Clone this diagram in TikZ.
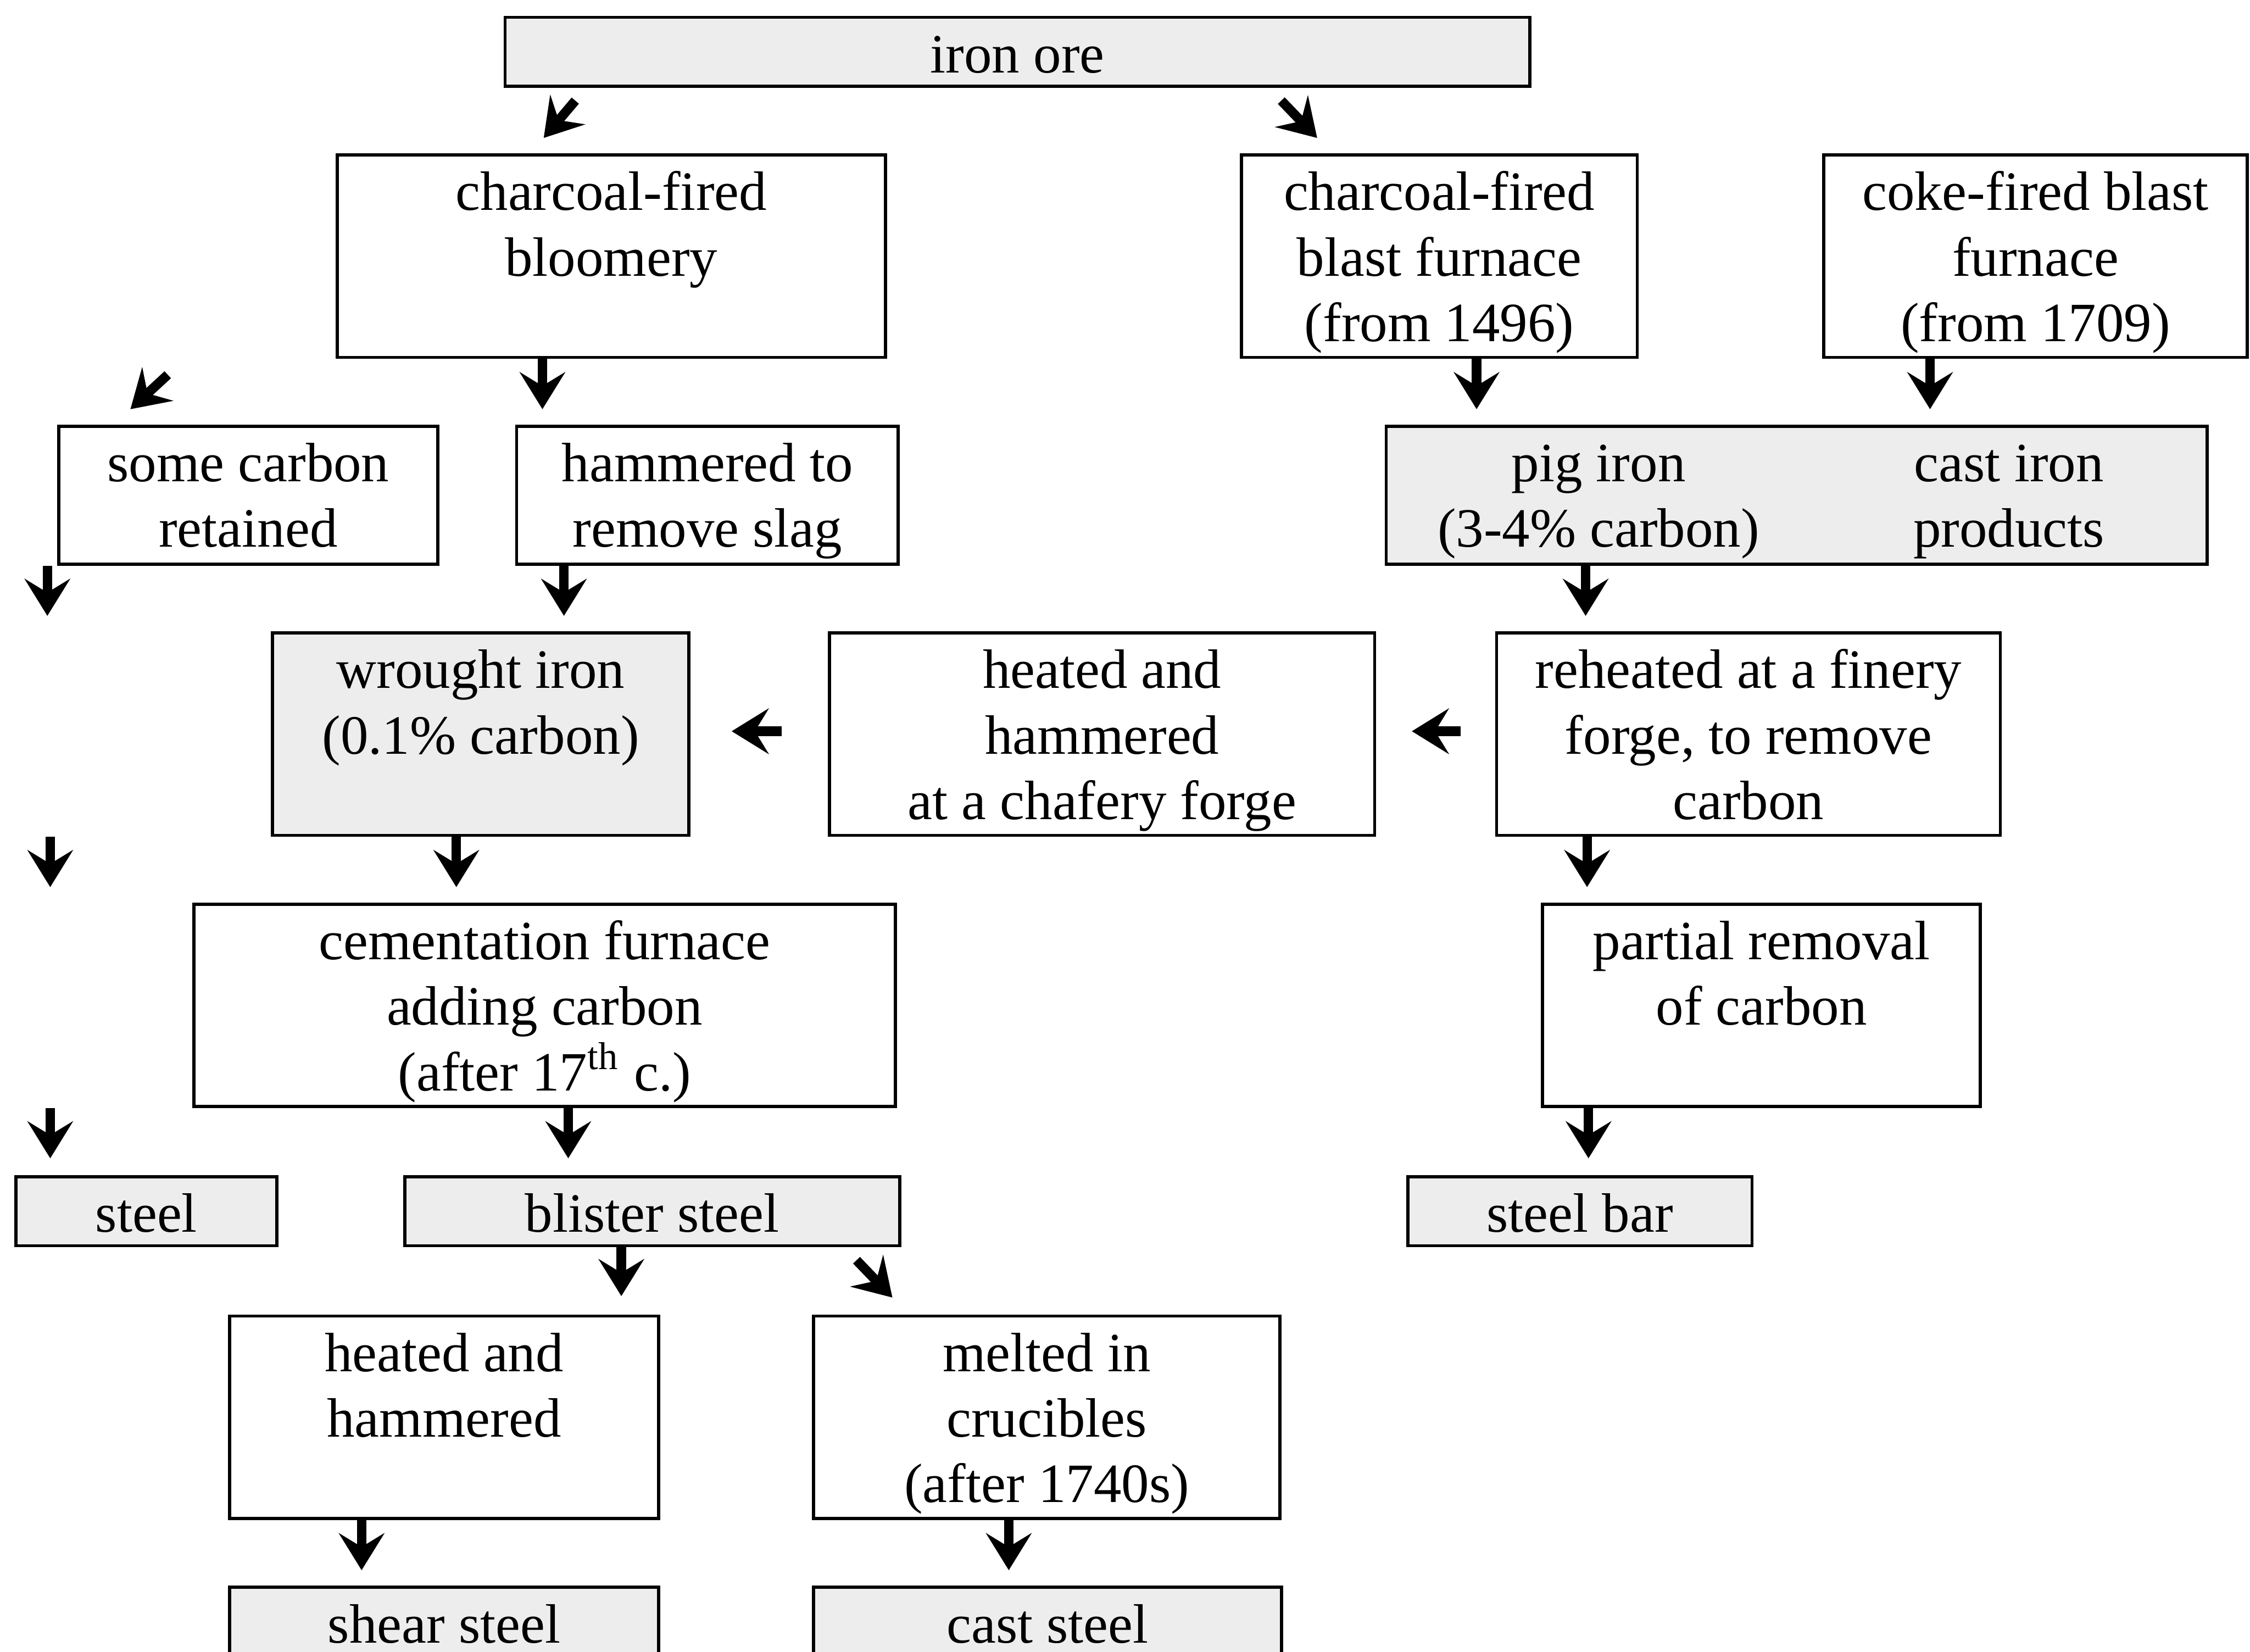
\documentclass[tikz,border=0pt]{standalone}
\usepackage{fontspec}
\setmainfont{Liberation Serif}
\usetikzlibrary{arrows.meta,fit,calc}
\tikzset{
  bx/.style={draw=black, line width=0.6pt, inner sep=0pt},
  shd/.style={bx, fill=black!7},
  lbl/.style={anchor=north, align=center, inner sep=0pt, font=\fontsize{10.5}{12.4}\selectfont},
  arr/.style={line width=1.8pt, -{Stealth[length=7pt,width=8.6pt,inset=2.6pt]}},
}
\newcommand\bx[7]{%
  \node[#1, fit={(#3,#4) (#5,#6)}] (#2) {};
  \node[lbl] (#2-t) at ($(#2.north)+(0,7)$) {\strut #7};
}
\begin{document}
\begin{tikzpicture}[x=0.2717pt, y=-0.2717pt]
\useasboundingbox (0,0) rectangle (1568,1151);
\clip (0,0) rectangle (1568,1151);
\fill[white] (0,0) rectangle (1568,1151);
% boxes
\bx{shd}{ore}{352}{12}{1066}{60}{iron ore}
\bx{bx}{bloom}{235}{108}{617}{249}{charcoal-fired\\bloomery}
\bx{bx}{blast}{865}{108}{1141}{249}{charcoal-fired\\blast furnace\\(from 1496)}
\bx{bx}{coke}{1271}{108}{1566}{249}{coke-fired blast\\furnace\\(from 1709)}
\bx{bx}{carb}{41}{297}{305}{393}{some carbon\\retained}
\bx{bx}{hamm}{360}{297}{626}{393}{hammered to\\remove slag}
\node[shd, fit={(966,297) (1538,393)}] (pig) {};
\node[lbl] (pig-t1) at ($(pig.north)+(-138,7)$) {\strut pig iron\\(3-4\% carbon)};
\node[lbl] (pig-t2) at ($(pig.north)+(148,7)$) {\strut cast iron\\products};
\bx{shd}{wrought}{190}{441}{480}{582}{wrought iron\\(0.1\% carbon)}
\bx{bx}{chafery}{578}{441}{958}{582}{heated and\\hammered\\at a chafery forge}
\bx{bx}{finery}{1043}{441}{1394}{582}{reheated at a finery\\forge, to remove\\carbon}
\bx{bx}{cement}{135}{630}{624}{771}{cementation furnace\\adding carbon\\(after 17\textsuperscript{th} c.)}
\bx{bx}{partial}{1075}{630}{1380}{771}{partial removal\\of carbon}
\bx{shd}{steel}{11}{820}{193}{868}{steel}
\bx{shd}{blister}{282}{820}{627}{868}{blister steel}
\bx{shd}{bar}{981}{820}{1221}{868}{steel bar}
\bx{bx}{heathamm}{160}{917}{459}{1058}{heated and\\hammered}
\bx{bx}{melted}{567}{917}{892}{1058}{melted in\\crucibles\\(after 1740s)}
\bx{shd}{shear}{160}{1106}{459}{1156}{shear steel}
\bx{shd}{cast}{567}{1106}{893}{1156}{cast steel}
% diagonal arrows
\draw[arr] ($(ore.south west)+(50,9)$) -- ++(-22,26);
\draw[arr] ($(ore.south west)+(542,9)$) -- ++(25,26);
\draw[arr] ($(bloom.south west)+(-117,11)$) -- ++(-26,24);
\draw[arr] ($(blister.south west)+(316,9)$) -- ++(25,26);
% vertical arrows
\draw[arr] (bloom.south -| 378,0) -- ++(0,35);
\draw[arr] (blast.south -| 1029,0) -- ++(0,35);
\draw[arr] (coke.south -| 1345,0) -- ++(0,35);
\draw[arr] (carb.south -| 33,0) -- ++(0,35);
\draw[arr] (hamm.south -| 393,0) -- ++(0,35);
\draw[arr] (pig.south -| 1105,0) -- ++(0,35);
\draw[arr] (wrought.south -| 35,0) -- ++(0,35);
\draw[arr] (wrought.south -| 318,0) -- ++(0,35);
\draw[arr] (finery.south -| 1106,0) -- ++(0,35);
\draw[arr] (cement.south -| 35,0) -- ++(0,35);
\draw[arr] (cement.south -| 396,0) -- ++(0,35);
\draw[arr] (partial.south -| 1107,0) -- ++(0,35);
\draw[arr] (blister.south -| 433,0) -- ++(0,34);
\draw[arr] (heathamm.south -| 252,0) -- ++(0,35);
\draw[arr] (melted.south -| 703,0) -- ++(0,35);
% horizontal arrows
\draw[arr] ($(chafery.west)+(-32,-2)$) -- ++(-35,0);
\draw[arr] ($(finery.west)+(-24,-2)$) -- ++(-34,0);
\end{tikzpicture}
\end{document}
